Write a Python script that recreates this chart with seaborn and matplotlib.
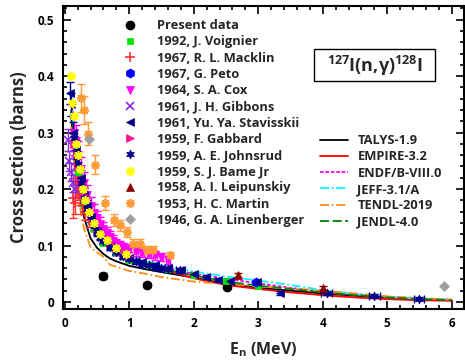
import numpy as np
import pandas as pd
import matplotlib
matplotlib.use("Agg")
import matplotlib.pyplot as plt
from matplotlib.lines import Line2D
from matplotlib.patches import Rectangle
from matplotlib.ticker import MultipleLocator
import seaborn as sns

sns.set_theme(style="ticks")
plt.rcParams['font.family'] = ['Open Sans', 'DejaVu Sans']
plt.rcParams['font.weight'] = 'bold'
plt.rcParams['axes.labelweight'] = 'bold'
plt.rcParams['mathtext.fontset'] = 'custom'
plt.rcParams['mathtext.rm'] = 'Open Sans:bold'
plt.rcParams['mathtext.it'] = 'Open Sans:bold'
plt.rcParams['mathtext.bf'] = 'Open Sans:bold'

#%% experimental data (E in MeV, sigma in barns)
present_E = [0.59, 1.27, 2.51]
present_s = [0.046, 0.030, 0.027]
present_err = [0.005, 0.003, 0.003]

voignier_E = [0.2, 0.3, 0.45, 0.6, 0.8, 1.0, 1.3, 1.6, 2.0, 2.5, 3.0]
voignier_s = [0.23, 0.175, 0.13, 0.105, 0.088, 0.075, 0.065, 0.058, 0.048, 0.037, 0.028]
voignier_err = [0.008, 0.006, 0.005, 0.004, 0.003, 0.003, 0.003, 0.003, 0.003, 0.002, 0.002]

macklin_E = [0.13, 0.155, 0.18, 0.21, 0.24, 0.28, 0.32, 0.37]
macklin_s = [0.184, 0.175, 0.215, 0.2, 0.19, 0.17, 0.16, 0.145]
macklin_err = [0.035, 0.02, 0.03, 0.02, 0.018, 0.015, 0.014, 0.012]

peto_E = [2.97]
peto_s = [0.035]
peto_err = [0.003]

cox_E = [0.15, 0.18, 0.21, 0.25, 0.3, 0.35, 0.4, 0.45, 0.5, 0.55, 0.6, 0.65, 0.7,
         0.75, 0.8, 0.85, 0.9, 0.95, 1.0, 1.1, 1.2, 1.3, 1.4, 1.5, 1.6]
cox_s = [0.30, 0.285, 0.26, 0.235, 0.21, 0.19, 0.17, 0.158, 0.148, 0.138, 0.13, 0.122,
         0.115, 0.108, 0.102, 0.099, 0.096, 0.094, 0.093, 0.09, 0.087, 0.085, 0.083, 0.08, 0.075]
cox_err = [0.03, 0.028, 0.025, 0.022, 0.02, 0.018, 0.016, 0.015, 0.014, 0.013, 0.012, 0.011,
           0.011, 0.01, 0.01, 0.009, 0.009, 0.009, 0.009, 0.008, 0.008, 0.008, 0.008, 0.007, 0.007]

gibbons_E = [0.05, 0.07, 0.1, 0.13, 0.16]
gibbons_s = [0.287, 0.25, 0.23, 0.21, 0.2]
gibbons_err = [0.02, 0.018, 0.016, 0.015, 0.014]

stav_E = [0.08, 0.1, 0.13, 0.18, 0.25, 0.3, 0.35, 0.4, 0.5, 0.6, 0.7, 0.8, 0.9, 1.0,
          1.2, 1.4, 1.6, 1.8, 2.0, 2.19, 2.37, 2.56, 2.98, 3.33]
stav_s = [0.37, 0.35, 0.30, 0.27, 0.22, 0.19, 0.17, 0.15, 0.125, 0.11, 0.1, 0.088, 0.082,
          0.077, 0.07, 0.065, 0.06, 0.056, 0.05, 0.044, 0.039, 0.037, 0.035, 0.016]
stav_err = [0.02, 0.02, 0.018, 0.016, 0.013, 0.011, 0.01, 0.009, 0.008, 0.007, 0.006, 0.005,
            0.005, 0.005, 0.004, 0.004, 0.004, 0.004, 0.003, 0.003, 0.003, 0.003, 0.003, 0.003]

gabbard_E = [0.15, 0.2, 0.25, 0.3, 0.4, 0.5, 0.6, 0.7, 0.8, 0.9, 1.0]
gabbard_s = [0.28, 0.24, 0.21, 0.19, 0.16, 0.13, 0.115, 0.105, 0.095, 0.088, 0.082]
gabbard_err = [0.02, 0.017, 0.015, 0.013, 0.011, 0.009, 0.008, 0.007, 0.007, 0.006, 0.006]

johns_E = [0.15, 0.2, 0.25, 0.3, 0.35, 0.4, 0.45, 0.5, 0.55, 0.6, 0.7, 0.8, 0.9, 1.0,
           1.1, 1.2, 1.3, 1.4, 1.5, 1.6, 1.78, 4.06, 4.8, 5.49]
johns_s = [0.29, 0.245, 0.21, 0.185, 0.165, 0.15, 0.135, 0.125, 0.115, 0.108, 0.097, 0.088,
           0.081, 0.076, 0.072, 0.068, 0.065, 0.062, 0.06, 0.058, 0.057, 0.015, 0.011, 0.006]
johns_err = [0.015, 0.012, 0.011, 0.01, 0.009, 0.008, 0.007, 0.007, 0.006, 0.006, 0.005, 0.005,
             0.005, 0.004, 0.004, 0.004, 0.004, 0.004, 0.004, 0.004, 0.004, 0.003, 0.003, 0.002]
johns_xerr = [0.02, 0.02, 0.02, 0.03, 0.03, 0.03, 0.03, 0.04, 0.04, 0.04, 0.04, 0.05,
              0.05, 0.05, 0.05, 0.05, 0.05, 0.05, 0.06, 0.06, 0.06, 0.08, 0.08, 0.08]

bame_E = [0.09, 0.12, 0.14, 0.17, 0.2, 0.24, 0.28, 0.32, 0.38, 0.45, 0.55, 0.65, 0.8, 0.95]
bame_s = [0.40, 0.352, 0.33, 0.28, 0.26, 0.235, 0.2, 0.18, 0.16, 0.14, 0.12, 0.11, 0.095, 0.085]

leip_E = [2.68, 4.0]
leip_s = [0.048, 0.025]
leip_err = [0.004, 0.003]

martin_E = [0.26, 0.30, 0.36, 0.47, 0.62, 0.76, 0.85, 0.97, 1.06, 1.16, 1.27, 1.37, 1.63]
martin_s = [0.361, 0.340, 0.298, 0.243, 0.175, 0.145, 0.136, 0.124, 0.103, 0.103, 0.092, 0.092, 0.083]
martin_err = [0.025, 0.025, 0.02, 0.017, 0.012, 0.01, 0.01, 0.009, 0.008, 0.008, 0.007, 0.007, 0.006]

linen_E = [0.37, 5.88]
linen_s = [0.288, 0.028]

#%% model evaluations
model_E = [0.1, 0.15, 0.2, 0.3, 0.4, 0.5, 0.6, 0.7, 0.8, 1.0, 1.25, 1.5,
           2.0, 2.5, 3.0, 3.5, 4.0, 4.5, 5.0, 5.5, 6.0]
talys = [0.33, 0.26, 0.21, 0.15, 0.113, 0.096, 0.085, 0.077, 0.072, 0.064, 0.058, 0.053,
         0.043, 0.032, 0.025, 0.02, 0.015, 0.011, 0.008, 0.005, 0.003]
empire = [0.36, 0.3, 0.25, 0.185, 0.15, 0.125, 0.11, 0.098, 0.09, 0.077, 0.067, 0.058,
          0.042, 0.03, 0.023, 0.017, 0.012, 0.008, 0.005, 0.003, 0.002]
endf = [0.35, 0.29, 0.24, 0.18, 0.145, 0.122, 0.108, 0.097, 0.089, 0.078, 0.069, 0.062,
        0.05, 0.041, 0.033, 0.025, 0.018, 0.013, 0.009, 0.006, 0.004]
jeff = [0.36, 0.3, 0.25, 0.19, 0.155, 0.13, 0.115, 0.103, 0.095, 0.083, 0.073, 0.065,
        0.054, 0.045, 0.038, 0.03, 0.021, 0.014, 0.009, 0.006, 0.004]
tendl = [0.31, 0.24, 0.19, 0.13, 0.097, 0.088, 0.08, 0.066, 0.062, 0.055, 0.05, 0.044,
         0.036, 0.032, 0.028, 0.024, 0.02, 0.015, 0.01, 0.007, 0.004]
jendl = [0.34, 0.28, 0.235, 0.175, 0.14, 0.118, 0.104, 0.094, 0.086, 0.075, 0.066, 0.059,
         0.047, 0.036, 0.029, 0.023, 0.017, 0.012, 0.008, 0.005, 0.003]

#%%
fig = plt.figure(figsize=(4.65, 3.61), dpi=100)
ax = fig.add_axes([0.135, 0.144, 0.863, 0.839])

models = [('TALYS-1.9', talys, 'black', '-'),
          ('EMPIRE-3.2', empire, 'red', '-'),
          ('ENDF/B-VIII.0', endf, 'magenta', (0, (2, 1))),
          ('JEFF-3.1/A', jeff, 'cyan', (0, (5, 1.5, 1, 1.5))),
          ('TENDL-2019', tendl, '#ff8c1a', (0, (5, 1.5, 1, 1.5))),
          ('JENDL-4.0', jendl, 'green', (0, (5, 2)))]
model_handles = []
for name, vals, col, ls in models:
    df = pd.DataFrame({'E': model_E, 's': vals})
    sns.lineplot(data=df, x='E', y='s', ax=ax, color=col, linestyle=ls, lw=1.3, zorder=2)
    model_handles.append(Line2D([], [], color=col, linestyle=ls, lw=1.3, label=name))

exp = [
    ('Present data', present_E, present_s, present_err, None, 'o', 'black', 6.5),
    ('1992, J. Voignier', voignier_E, voignier_s, voignier_err, None, 's', '#00e000', 5),
    ('1967, R. L. Macklin', macklin_E, macklin_s, macklin_err, None, '+', '#ff3030', 6.5),
    ('1967, G. Peto', peto_E, peto_s, peto_err, None, 'h', '#0000ff', 6.5),
    ('1964, S. A. Cox', cox_E, cox_s, cox_err, 0.03, 'v', '#ff00ff', 5.5),
    ('1961, J. H. Gibbons', gibbons_E, gibbons_s, gibbons_err, None, 'x', '#8a2be2', 5.5),
    ('1961, Yu. Ya. Stavisskii', stav_E, stav_s, stav_err, None, '<', '#00008b', 6),
    ('1959, F. Gabbard', gabbard_E, gabbard_s, gabbard_err, None, '>', '#ff1493', 6),
    ('1959, A. E. Johnsrud', johns_E, johns_s, johns_err, johns_xerr, (6, 1, 0), '#00008b', 6.5),
    ('1959, S. J. Bame Jr', bame_E, bame_s, None, None, (8, 2, 0), '#ffff00', 6.5),
    ('1958, A. I. Leipunskiy', leip_E, leip_s, leip_err, None, '^', '#8b0000', 6),
    ('1953, H. C. Martin', martin_E, martin_s, martin_err, None, (8, 2, 0), '#ff9933', 6.5),
    ('1946, G. A. Linenberger', linen_E, linen_s, None, None, 'D', '#a0a0a0', 5),
]
exp_handles = []
for label, E, s, err, xerr, mk, col, ms in exp:
    mew = 1.2 if mk in ('+', 'x') or isinstance(mk, tuple) and mk[1] == 2 else 0.5
    ax.errorbar(E, s, yerr=err, xerr=xerr, fmt='none', ecolor=col, elinewidth=1,
                capsize=3, zorder=3)
    ax.plot(E, s, ls='none', marker=mk, color=col, ms=ms, mew=mew, zorder=4)
    exp_handles.append(Line2D([], [], ls='none', marker=mk, color=col, ms=ms, mew=mew,
                              label=label))

ax.set_xlim(-0.03, 6.19)
ax.set_ylim(-0.0125, 0.524)
ax.xaxis.set_minor_locator(MultipleLocator(0.2))
ax.yaxis.set_minor_locator(MultipleLocator(0.02))
ax.set_xticks([0, 1, 2, 3, 4, 5, 6])
ax.set_xticklabels(['0', '1', '2', '3', '4', '5', '6'])
ax.set_yticks([0, 0.1, 0.2, 0.3, 0.4, 0.5])
ax.set_yticklabels(['0', '0.1', '0.2', '0.3', '0.4', '0.5'])
ax.tick_params(which='both', direction='in', top=True, right=True, width=1.2,
               labelsize=8.5, colors='black')
ax.tick_params(which='major', length=6, pad=6)
ax.tick_params(which='minor', length=3)
for lab in ax.get_xticklabels() + ax.get_yticklabels():
    lab.set_fontweight('bold')
for sp in ax.spines.values():
    sp.set_linewidth(1.5)
    sp.set_color('black')
ax.set_xlabel(r'E$_\mathrm{n}$ (MeV)', fontsize=11.5, fontweight='bold', labelpad=7)
ax.set_ylabel('Cross section (barns)', fontsize=12, fontweight='bold', labelpad=7)

leg1 = ax.legend(handles=exp_handles, loc='upper left', bbox_to_anchor=(0.152, 0.957),
                 frameon=False, handlelength=1.0, handletextpad=1.55,
                 labelspacing=0.25, borderpad=0, borderaxespad=0,
                 prop={'size': 9.3, 'weight': 'bold'})
ax.add_artist(leg1)
ax.legend(handles=model_handles, loc='upper left', bbox_to_anchor=(0.641, 0.577),
          frameon=False, handlelength=2.2, handletextpad=0.7,
          labelspacing=0.25, borderpad=0, borderaxespad=0,
          prop={'size': 9.3, 'weight': 'bold'})

ax.add_patch(Rectangle((0.626, 0.752), 0.302, 0.106, transform=ax.transAxes,
                       fc='white', ec='black', lw=1, zorder=5))
ax.text(0.777, 0.803, r'$^{127}$I(n,$\gamma$)$^{128}$I', transform=ax.transAxes,
        ha='center', va='center', fontsize=13, fontweight='bold', zorder=6)

fig.savefig('out.png', dpi=100)
